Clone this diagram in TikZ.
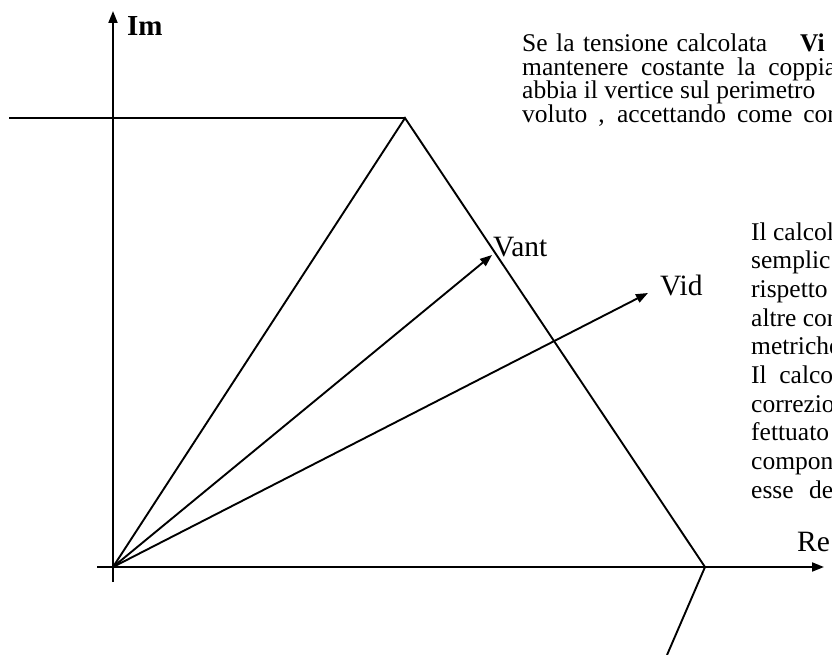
\documentclass[tikz,border=0pt]{standalone}
\usepackage{fontspec}
\setmainfont{Liberation Serif}
\usetikzlibrary{arrows.meta}
\tikzset{
  ln/.style={line width=1.9pt, line join=miter},
  arr/.style={ln, -{Triangle[length=12pt,width=9pt]}},
  lbl/.style={inner sep=0pt, anchor=base west, font=\fontsize{29.5}{34}\selectfont},
  body/.style={inner sep=0pt, anchor=base west, font=\fontsize{25.5}{29}\selectfont},
}
\begin{document}
\begin{tikzpicture}[x=1pt,y=-1pt]
\useasboundingbox (0,0) rectangle (832,655);
\clip (0,0) rectangle (832,655);
% points
\coordinate (O) at (113,567);
\coordinate (imtop) at (113,11);
\coordinate (imbot) at (113,582);
\coordinate (releft) at (97,567);
\coordinate (retip) at (824,567);
\coordinate (hl) at (9,118);
\coordinate (T) at (405,118);
\coordinate (B) at (705,567);
\coordinate (Bend) at (667,655);
\coordinate (vant) at (492,255);
\coordinate (vid) at (648,293);
% axes
\draw[arr] (imbot) -- (imtop);
\draw[arr] (releft) -- (retip);
% triangle
\draw[ln] (hl) -- (T);
\draw[ln] (O) -- (T) -- (B) -- (Bend);
% vectors
\draw[arr] (O) -- (vant);
\draw[arr] (O) -- (vid);
% labels
\node[lbl, font=\fontsize{29}{32}\selectfont\bfseries] (im) at (127,36) {Im};
\node[lbl] (lvant) at (493,256) {Vant};
\node[lbl] (lvid) at (660,295) {Vid};
\node[lbl] (lre) at (797,551) {Re};
% top text (justified lines, cut by the right edge)
\node[body] (t1) at (522,52) {\makebox[245pt][s]{Se la tensione calcolata}};
\node[body, font=\fontsize{25.5}{29}\selectfont\bfseries] (t1b) at (800,52) {Vi};
\node[body] (t2) at (522,75.5) {\makebox[314pt][s]{mantenere costante la coppia}};
\node[body] (t3) at (522,99) {abbia il vertice sul perimetro};
\node[body] (t4) at (522,122.5) {\makebox[318pt][s]{voluto , accettando come con}};
% right text
\node[body] (r0) at (751,240) {Il calcol};
\node[body] (r1) at (751,268.7) {semplic};
\node[body] (r2) at (751,297.3) {rispetto};
\node[body] (r3) at (751,326) {altre con};
\node[body] (r4) at (751,354.7) {metriche};
\node[body] (r5) at (751,383.3) {\makebox[82pt][s]{Il calco}};
\node[body] (r6) at (751,412) {correzio};
\node[body] (r7) at (751,440.7) {fettuato};
\node[body] (r8) at (751,469.3) {compon};
\node[body] (r9) at (751,498) {\makebox[82pt][s]{esse de}};
\end{tikzpicture}
\end{document}
